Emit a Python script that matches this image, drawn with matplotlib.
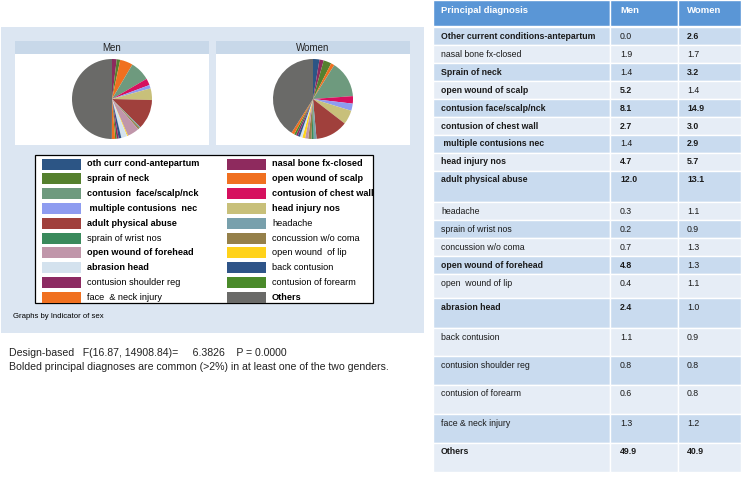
import matplotlib.pyplot as plt
from matplotlib.patches import Rectangle

plt.rcParams['font.family'] = ['Liberation Sans', 'DejaVu Sans']

# datos de la tabla / pies
diagnoses = ['Other current conditions-antepartum', 'nasal bone fx-closed', 'Sprain of neck',
             'open wound of scalp', 'contusion face/scalp/nck', 'contusion of chest wall',
             ' multiple contusions nec', 'head injury nos', 'adult physical abuse', 'headache',
             'sprain of wrist nos', 'concussion w/o coma', 'open wound of forehead',
             'open  wound of lip', 'abrasion head', 'back contusion', 'contusion shoulder reg',
             'contusion of forearm', 'face & neck injury', 'Others']
legend_labels = ['oth curr cond-antepartum', 'nasal bone fx-closed', 'sprain of neck',
                 'open wound of scalp', 'contusion  face/scalp/nck', 'contusion of chest wall',
                 ' multiple contusions  nec', 'head injury nos', 'adult physical abuse', 'headache',
                 'sprain of wrist nos', 'concussion w/o coma', 'open wound of forehead',
                 'open wound  of lip', 'abrasion head', 'back contusion',
                 'contusion shoulder reg', 'contusion of forearm', 'face  & neck injury', 'Others']
men = [0.0, 1.9, 1.4, 5.2, 8.1, 2.7, 1.4, 4.7, 12.0, 0.3, 0.2, 0.7, 4.8, 0.4, 2.4, 1.1, 0.8, 0.6, 1.3, 49.9]
women = [2.6, 1.7, 3.2, 1.4, 14.9, 3.0, 2.9, 5.7, 13.1, 1.1, 0.9, 1.3, 1.3, 1.1, 1.0, 0.9, 0.8, 0.8, 1.2, 40.9]
name_bold = [1, 0, 1, 1, 1, 1, 1, 1, 1, 0, 0, 0, 1, 0, 1, 0, 0, 0, 0, 1]
legend_bold = [1, 1, 1, 1, 1, 1, 1, 1, 1, 0, 0, 0, 1, 0, 1, 0, 0, 0, 0, 1]
colors = ['#2c5585', '#8e2a5e', '#55802e', '#f07020', '#6e9a7e', '#d6105e', '#8e9cf0', '#c8c07a',
          '#a0403c', '#78a0ac', '#3a8a5c', '#95804a', '#c096aa', '#ffd21a', '#d4e2ee', '#2e5488',
          '#8c2a62', '#4a8a2a', '#f07020', '#6a6a68']

# filas de la tabla (bordes superiores en pixeles)
row_tops = [27, 45, 63, 81, 99, 117, 135, 153, 171, 202, 220, 238, 256, 274, 298, 328, 356, 385, 414, 443, 472]

W, H = 741, 478
fig = plt.figure(figsize=(W / 100, H / 100), dpi=100)
bg = fig.add_axes([0, 0, 1, 1])
bg.set_xlim(0, W)
bg.set_ylim(H, 0)
bg.axis('off')

# panel izquierdo
bg.add_patch(Rectangle((1, 27), 423, 306, color='#dce6f2', lw=0))
for x0, title in [(15, 'Men'), (216, 'Women')]:
    bg.add_patch(Rectangle((x0, 41), 194, 13, color='#c8d8e9', lw=0))
    bg.add_patch(Rectangle((x0, 54), 194, 91, color='white', lw=0))
    bg.text(x0 + 97, 47.5, title, ha='center', va='center', fontsize=7, color='#222222')

# leyenda
bg.add_patch(Rectangle((35, 155), 338, 148, facecolor='white', edgecolor='black', lw=0.9))
for i, lab in enumerate(legend_labels):
    col, row = i % 2, i // 2
    xs = 42 if col == 0 else 227
    yc = 164 + row * 14.8
    bg.add_patch(Rectangle((xs, yc - 5.5), 39, 11, color=colors[i], lw=0))
    bg.text(xs + 45, yc, lab, ha='left', va='center', fontsize=6.6,
            fontweight='bold' if legend_bold[i] else 'normal', color='black')

bg.text(13, 317, 'Graphs by Indicator of sex', fontsize=5.6, va='center', color='black')
bg.text(9, 353, 'Design-based   F(16.87, 14908.84)=     6.3826    P = 0.0000', fontsize=7.6,
        va='center', color='#222222')
bg.text(9, 367, 'Bolded principal diagnoses are common (>2%) in at least one of the two genders.',
        fontsize=7.6, va='center', color='#222222')

# tabla
col_x = [433, 610, 678, 741]
text_x = [441, 620, 687]
header = ['Principal diagnosis', 'Men', 'Women']
for j in range(3):
    bg.add_patch(Rectangle((col_x[j], 0), col_x[j + 1] - col_x[j], 26, facecolor='#5a96d6',
                           edgecolor='white', lw=1))
    bg.text(text_x[j], 10, header[j], fontsize=6.8, fontweight='bold', color='white', va='center')

for i, name in enumerate(diagnoses):
    top, bot = row_tops[i], row_tops[i + 1]
    fill = '#c9dbef' if i % 2 == 0 else '#e6edf6'
    for j in range(3):
        bg.add_patch(Rectangle((col_x[j], top), col_x[j + 1] - col_x[j], bot - top,
                               facecolor=fill, edgecolor='white', lw=1))
    ty = top + 9
    bg.text(text_x[0], ty, name, fontsize=6.3, va='center', color='#1a1a1a',
            fontweight='bold' if name_bold[i] else 'normal')
    for j, v in [(1, men[i]), (2, women[i])]:
        bg.text(text_x[j], ty, f'{v:.1f}', fontsize=6.3, va='center', color='#1a1a1a',
                fontweight='bold' if v > 2 else 'normal')

# pies
r = 40
for cx, vals in [(112, men), (313, women)]:
    ax = fig.add_axes([(cx - r) / W, (H - 99 - r) / H, 2 * r / W, 2 * r / H])
    ax.pie(vals, colors=colors, startangle=90, counterclock=False,
           wedgeprops={'linewidth': 0})
    ax.set_aspect('auto')
    ax.set_xlim(-1, 1)
    ax.set_ylim(-1, 1)
    ax.axis('off')

fig.savefig('out.png', dpi=100)
